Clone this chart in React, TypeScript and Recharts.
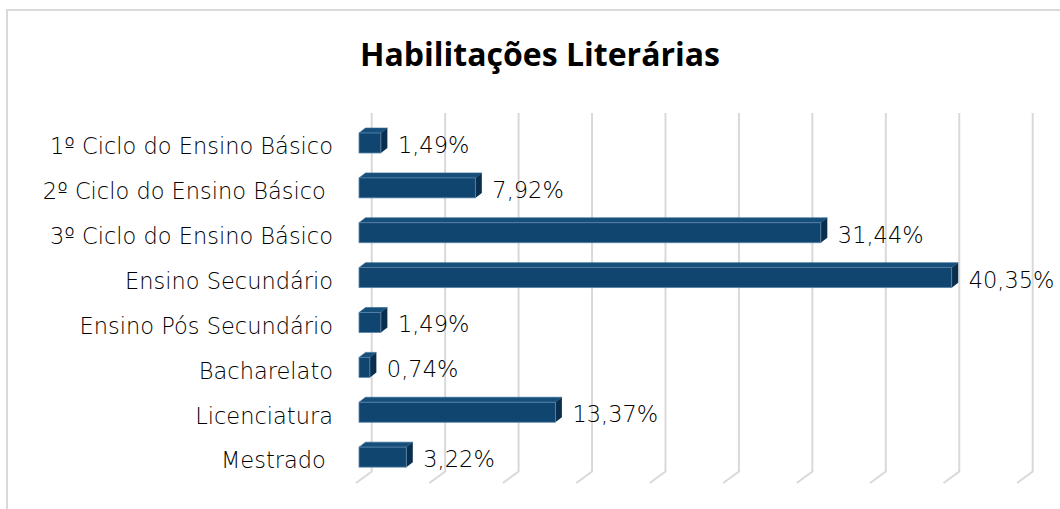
import React from "react";
import { BarChart, Bar, XAxis, YAxis, CartesianGrid, LabelList } from "recharts";

const categorias = [
  "1º Ciclo do Ensino Básico",
  "2º Ciclo do Ensino Básico ",
  "3º Ciclo do Ensino Básico",
  "Ensino Secundário",
  "Ensino Pós Secundário",
  "Bacharelato",
  "Licenciatura",
  "Mestrado ",
];
const percentagens = [1.49, 7.92, 31.44, 40.35, 1.49, 0.74, 13.37, 3.22];
const ticksEixo = [0, 5, 10, 15, 20, 25, 30, 35, 40, 45];

const data = categorias.map((nome, i) => ({ nome, valor: percentagens[i] }));

const FONTE_TITULO = "'Open Sans', sans-serif";
const FONTE = "'DejaVu Sans', sans-serif";
const PROF_X = 6.5;
const PROF_Y = 5;

function Barra3D(props: any) {
  const { x, y, width, height } = props;
  if (width == null || height == null) return null;
  const w = Math.max(width, 0);
  return (
    <g>
      <polygon
        points={`${x},${y} ${x + PROF_X},${y - PROF_Y} ${x + w + PROF_X},${y - PROF_Y} ${x + w},${y}`}
        fill="#174f7b"
        stroke="#2f6590"
        strokeWidth={0.6}
      />
      <polygon
        points={`${x + w},${y} ${x + w + PROF_X},${y - PROF_Y} ${x + w + PROF_X},${y + height - PROF_Y} ${x + w},${y + height}`}
        fill="#0a2f4e"
      />
      <rect x={x} y={y} width={w} height={height} fill="#104570" stroke="#5a86aa" strokeWidth={0.8} />
    </g>
  );
}

function LinhaGrelha(props: any) {
  const { x1, y1, y2, index } = props;
  const d = `M${x1 + 12.7},${y1 - 8} L${x1 + 12.7},${y2 - 8.5} L${x1 - 3},${y2 + 3}`;
  return <path key={`g-${index}`} d={d} fill="none" stroke="#d9d9d9" strokeWidth={2} />;
}

function TickCategoria(props: any) {
  const { x, y, payload } = props;
  return (
    <text
      x={x - 26}
      y={y + 3}
      dy="0.35em"
      textAnchor="end"
      fontFamily={FONTE}
      fontWeight={200}
      fontSize={22.5}
      fill="#000"
      style={{ whiteSpace: "pre" }}
    >
      {payload.value}
    </text>
  );
}

function RotuloValor(props: any) {
  const { x, y, width, height, value } = props;
  return (
    <text
      x={x + width + 17}
      y={y + height / 2 + 2}
      dy="0.35em"
      fontFamily={FONTE}
      fontWeight={200}
      fontSize={22.5}
      fill="#000"
    >
      {value.toFixed(2).replace(".", ",")}%
    </text>
  );
}

export default function App() {
  return (
    <div style={{ position: "absolute", left: 0, top: 0, width: 1060, height: 509, overflow: "hidden", background: "#fff" }}>
      <div
        style={{
          position: "absolute",
          left: 6,
          top: 9,
          width: 1100,
          height: 600,
          border: "2px solid #d9d9d9",
        }}
      />
      <svg width={1060} height={90} style={{ position: "absolute", left: 0, top: 0 }}>
        <text
          x={540}
          y={66}
          textAnchor="middle"
          fontFamily={FONTE_TITULO}
          fontWeight="bold"
          fontSize={32}
          fill="#000"
        >
          Habilitações Literárias
        </text>
      </svg>
      <div style={{ position: "absolute", left: 0, top: 0 }}>
        <BarChart
          width={1060}
          height={509}
          data={data}
          layout="vertical"
          margin={{ top: 121, right: 40, bottom: 29, left: 0 }}
          barSize={20}
        >
          <CartesianGrid horizontal={false} vertical={LinhaGrelha} />
          <XAxis type="number" domain={[0, 45]} ticks={ticksEixo} hide />
          <YAxis
            type="category"
            dataKey="nome"
            width={359}
            axisLine={false}
            tickLine={false}
            tickSize={0}
            tickMargin={0}
            tick={TickCategoria}
            interval={0}
          />
          <Bar dataKey="valor" shape={Barra3D} isAnimationActive={false}>
            <LabelList dataKey="valor" content={RotuloValor} />
          </Bar>
        </BarChart>
      </div>
    </div>
  );
}
